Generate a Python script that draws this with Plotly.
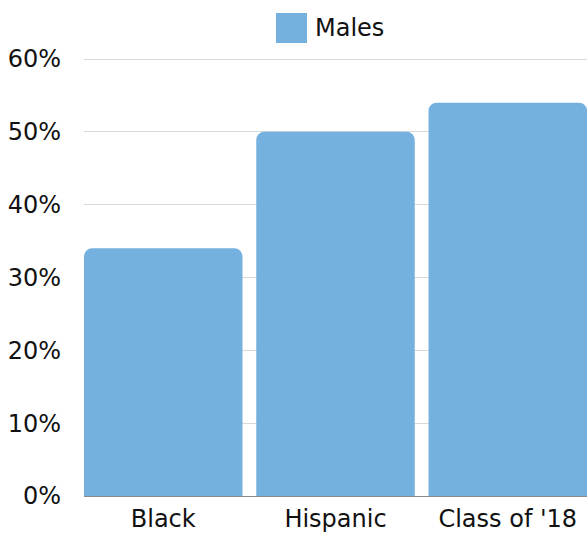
import plotly.graph_objects as go

categories = ["Black", "Hispanic", "Class of '18"]
males = [0.34, 0.50, 0.54]
series_name = "Males"
tick_vals = [0, 0.1, 0.2, 0.3, 0.4, 0.5, 0.6]
tick_text = ["0%", "10%", "20%", "30%", "40%", "50%", "60%"]

BAR_COLOR = "#74b1de"
FONT = "DejaVu Sans, sans-serif"

W, H = 587, 535
ML, MR, MT, MB = 84, 0, 55, 39
pw, ph = W - ML - MR, H - MT - MB
# 60% sits at y=59 px, 0% at y=496 px
Y_TOP = 0.6 * ph / (496 - 59)

def px_x(x):
    return (x - ML) / pw

def px_y(y):
    return (H - MB - y) / ph

BARGAP = 0.08
HALF = (1 - BARGAP) / 2

fig = go.Figure()
fig.add_trace(go.Bar(
    x=categories, y=males, name=series_name,
    marker=dict(color=BAR_COLOR, cornerradius=8, line=dict(width=0)),
    showlegend=False, hoverinfo="skip",
))

fig.update_layout(
    width=W, height=H,
    margin=dict(l=ML, r=MR, t=MT, b=MB, autoexpand=False),
    paper_bgcolor="white", plot_bgcolor="white",
    bargap=BARGAP,
    font=dict(family=FONT, size=24, color="#111111"),
    xaxis=dict(showgrid=False, showline=False, ticks="", automargin=False,
               range=[-HALF, 2 + HALF], ticklabelstandoff=6,
               tickfont=dict(size=24)),
    yaxis=dict(range=[0, Y_TOP], tickvals=tick_vals, ticktext=tick_text,
               showgrid=True, gridcolor="#d9d9d9", gridwidth=1, automargin=False,
               zeroline=True, zerolinecolor="#8c8c8c", zerolinewidth=1,
               showline=False, ticks="", ticklabelstandoff=22,
               tickfont=dict(size=24)),
    shapes=[dict(type="rect", xref="paper", yref="paper",
                 x0=px_x(276), x1=px_x(307), y0=px_y(43), y1=px_y(13),
                 fillcolor=BAR_COLOR, line=dict(width=0))],
    annotations=[dict(text=series_name, xref="paper", yref="paper",
                      x=px_x(313), y=px_y(28), xanchor="left", yanchor="middle",
                      showarrow=False, font=dict(size=24))],
)

fig.write_html(
    "out.html",
    config={"displayModeBar": False},
    post_script="document.body.style.margin='0';document.body.style.overflow='hidden';",
)
